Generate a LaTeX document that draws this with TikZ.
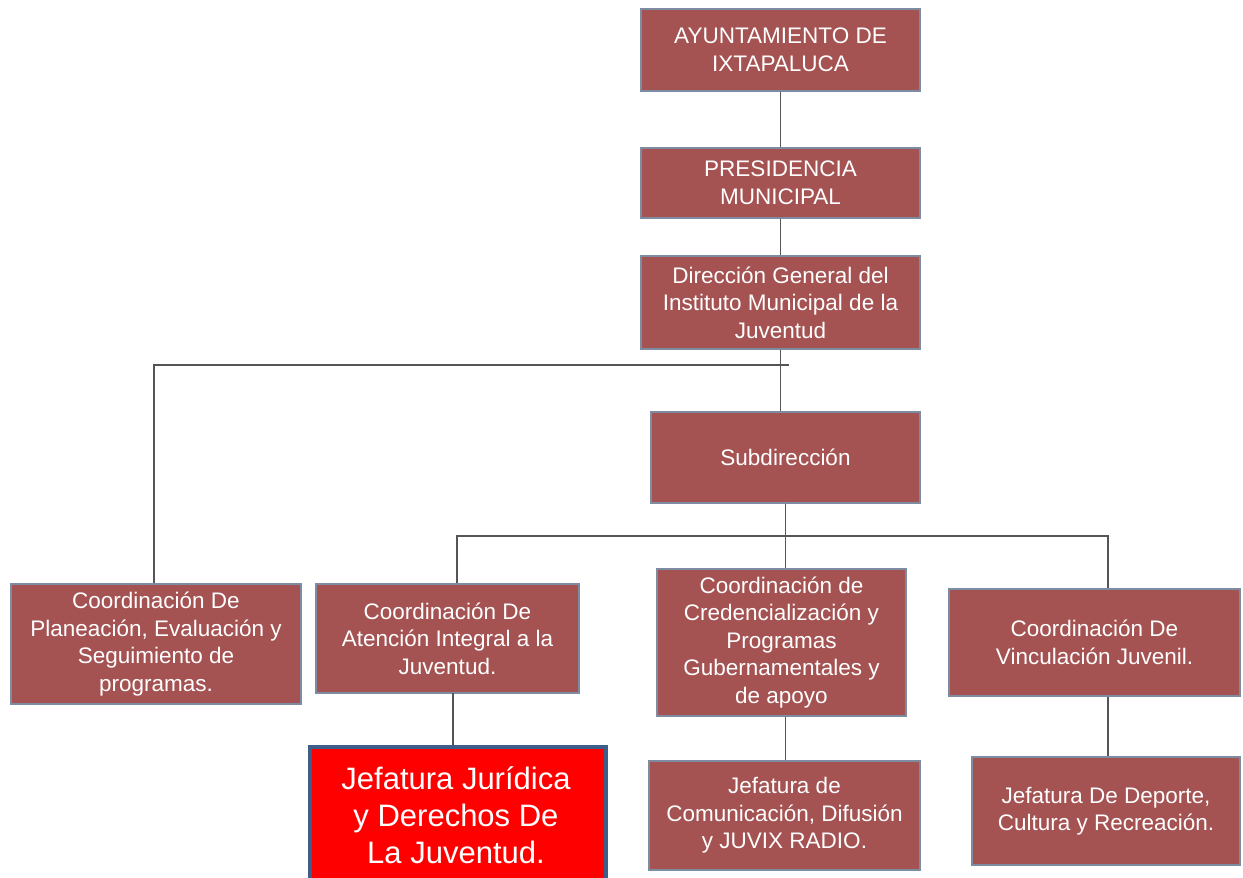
\documentclass[tikz,border=0pt]{standalone}
\usepackage{fontspec}
\setmainfont{Liberation Sans}
\definecolor{boxfill}{RGB}{165,82,82}
\definecolor{boxline}{RGB}{125,140,160}
\definecolor{redfill}{RGB}{255,0,0}
\definecolor{redline}{RGB}{62,94,138}
\definecolor{conn}{RGB}{85,85,85}
\begin{document}
\begin{tikzpicture}[x=1pt,y=-1pt,
  orgbox/.style={draw=boxline, line width=1.2pt, fill=boxfill, text=white, inner sep=0pt, align=center,
    font=\fontsize{22.5}{27.5}\selectfont},
  redbox/.style={draw=redline, line width=4pt, fill=redfill, text=white, inner sep=0pt, align=center,
    font=\fontsize{31}{37}\selectfont},
  link/.style={draw=conn, line width=1.3pt}]
\useasboundingbox (0,0) rectangle (1243,878);
\fill[white] (0,0) rectangle (1243,878);
\newcommand{\orgnode}[7]{% name, style, x1,y1,x2,y2, text
  \node[#2, minimum width={#5-#3}, minimum height={#6-#4}] (#1) at ({(#3+#5)/2},{(#4+#6)/2}) {#7};}
\orgnode{ayto}{orgbox}{641}{9}{920}{91}{AYUNTAMIENTO DE\\IXTAPALUCA}
\orgnode{pres}{orgbox}{641}{148}{920}{218}{PRESIDENCIA\\MUNICIPAL}
\orgnode{dir}{orgbox}{641}{256}{920}{349}{Dirección General del\\Instituto Municipal de la\\Juventud}
\orgnode{sub}{orgbox}{651}{412}{920}{503}{Subdirección}
\orgnode{plan}{orgbox}{11}{584}{301}{704}{Coordinación De\\Planeación, Evaluación y\\Seguimiento de\\programas.}
\orgnode{aten}{orgbox}{316}{584}{579}{693}{Coordinación De\\Atención Integral a la\\Juventud.}
\orgnode{cred}{orgbox}{657}{569}{906}{716}{Coordinación de\\Credencialización y\\Programas\\Gubernamentales y\\de apoyo}
\orgnode{vinc}{orgbox}{949}{589}{1240}{696}{Coordinación De\\Vinculación Juvenil.}
\orgnode{com}{orgbox}{649}{761}{920}{870}{Jefatura de\\Comunicación, Difusión\\y JUVIX RADIO.}
\orgnode{dep}{orgbox}{972}{757}{1240}{865}{Jefatura De Deporte,\\Cultura y Recreación.}
\node[redbox, minimum width=296pt, minimum height=150pt, anchor=north west, text depth=0pt] (jur) at (308,745) {};
\node[text=white, align=center, font=\fontsize{31}{37}\selectfont] (jurtext) at (456,815) {Jefatura Jurídica\\y Derechos De\\La Juventud.};
% connectors
\coordinate (hA) at (154,365);
\coordinate (hB) at (789,365);
\coordinate (hC) at (457,536);
\coordinate (hD) at (1108,536);
\coordinate (aS) at (453,693);
\draw[link] (ayto) -- (pres);
\draw[link] (pres) -- (dir);
\draw[link] (dir.south) -- (dir.south |- sub.north);
\draw[link] (hB) -- (hA) -- (hA |- plan.north);
\draw[link] (sub.south) -- (sub.south |- cred.north);
\draw[link] (hC |- aten.north) -- (hC) -- (hD) -- (hD |- vinc.north);
\draw[link] (aS) -- (aS |- jur.north);
\draw[link] (cred.south -| sub.south) -- (sub.south |- com.north);
\draw[link] (hD |- vinc.south) -- (hD |- dep.north);
\end{tikzpicture}
\end{document}
